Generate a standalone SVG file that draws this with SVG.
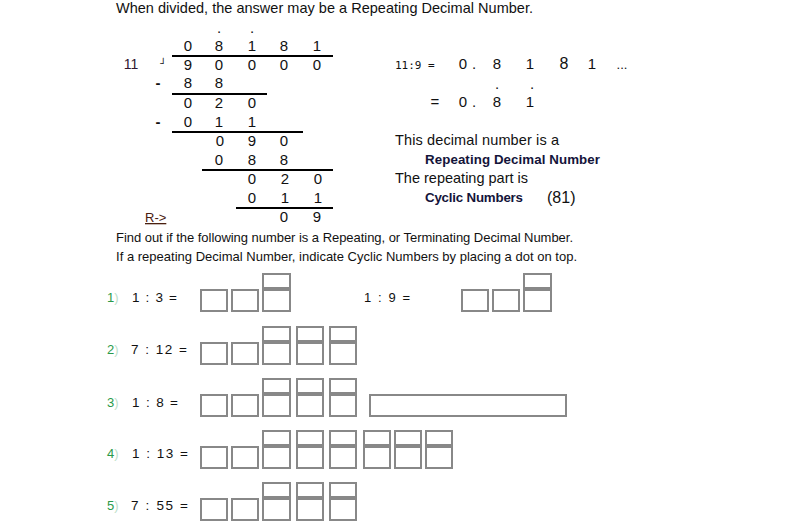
<svg xmlns="http://www.w3.org/2000/svg" width="799" height="525" viewBox="0 0 799 525">
<style>
text{font-family:"Liberation Sans",Arial,sans-serif;fill:#111}
.d{font-size:15px;text-anchor:middle}
.t{font-size:14.5px}
.s{font-size:13px}
.e{font-size:13.5px}
.b{font-size:13.3px;font-weight:bold;fill:#14143a}
.m{font-family:"DejaVu Sans Mono","Liberation Mono",monospace;font-size:11px}
.n{font-size:13px;fill:#2a9a4a}
.bx{fill:#fff;stroke:#888;stroke-width:2}
.ln{stroke:#000;stroke-width:2}
</style>
<rect width="799" height="525" fill="#fff"/>
<text class="t" x="116" y="13" textLength="417">When divided, the answer may be a Repeating Decimal Number.</text>

<g id="division">
<text class="d" x="219" y="33">.</text><text class="d" x="252" y="33">.</text>
<text class="d" x="188" y="51">0</text><text class="d" x="219" y="51">8</text><text class="d" x="252" y="51">1</text><text class="d" x="284" y="51">8</text><text class="d" x="317" y="51">1</text>
<line class="ln" x1="172" y1="56" x2="333" y2="56"/>
<text class="d" x="131" y="69" style="fill:#301830;font-size:14px">11</text>
<text class="d" x="163" y="67" style="font-size:10px;font-family:'DejaVu Sans',sans-serif">┘</text>
<text class="d" x="188" y="70">9</text><text class="d" x="219" y="70">0</text><text class="d" x="252" y="70">0</text><text class="d" x="284" y="70">0</text><text class="d" x="317" y="70">0</text>
<text class="d" x="158" y="88" style="font-weight:bold">-</text>
<text class="d" x="188" y="88">8</text><text class="d" x="219" y="88">8</text>
<line class="ln" x1="172" y1="94" x2="267" y2="94"/>
<text class="d" x="188" y="108">0</text><text class="d" x="219" y="108">2</text><text class="d" x="252" y="108">0</text>
<text class="d" x="158" y="127" style="font-weight:bold">-</text>
<text class="d" x="188" y="127">0</text><text class="d" x="219" y="127">1</text><text class="d" x="252" y="127">1</text>
<line class="ln" x1="172" y1="132" x2="303" y2="132"/>
<text class="d" x="220" y="146">0</text><text class="d" x="252" y="146">9</text><text class="d" x="284" y="146">0</text>
<text class="d" x="219" y="165">0</text><text class="d" x="252" y="165">8</text><text class="d" x="284" y="165">8</text>
<line class="ln" x1="202" y1="170" x2="333" y2="170"/>
<text class="d" x="252" y="184">0</text><text class="d" x="285" y="184">2</text><text class="d" x="318" y="184">0</text>
<text class="d" x="252" y="203">0</text><text class="d" x="285" y="203">1</text><text class="d" x="318" y="203">1</text>
<line class="ln" x1="236" y1="208" x2="333" y2="208"/>
<text class="s" x="145" y="222" style="fill:#4a2010;text-decoration:underline">R-&gt;</text>
<text class="d" x="284" y="222">0</text><text class="d" x="317" y="222">9</text>
</g>

<g id="result">
<text class="m" x="395" y="69">11:9 =</text>
<text class="d" x="463" y="69">0</text><text class="d" x="474" y="69">.</text><text class="d" x="497" y="69">8</text><text class="d" x="530" y="69">1</text><text class="d" x="564" y="69" style="font-size:16px">8</text><text class="d" x="592" y="69">1</text><text class="d" x="622" y="69" style="font-size:13px">...</text>
<text class="d" x="497" y="89">.</text><text class="d" x="532" y="89">.</text>
<text class="d" x="435" y="107">=</text>
<text class="d" x="463" y="107">0</text><text class="d" x="474" y="107">.</text><text class="d" x="497" y="107">8</text><text class="d" x="530" y="107">1</text>
<text class="t" x="395" y="145" textLength="164">This decimal number is a</text>
<text class="b" x="425" y="164" textLength="175">Repeating Decimal Number</text>
<text class="t" x="395" y="183" textLength="133">The repeating part is</text>
<text class="b" x="425" y="202" textLength="98">Cyclic Numbers</text>
<text x="547" y="203" style="font-size:16px">(81)</text>
</g>

<text class="s" x="116" y="242" textLength="457">Find out if the following number is a Repeating, or Terminating Decimal Number.</text>
<text class="s" x="116" y="261" textLength="461">If a repeating Decimal Number, indicate Cyclic Numbers by placing a dot on top.</text>

<g id="q1">
<text class="n" x="107" y="302">1<tspan style="fill:#bde0c8">)</tspan></text>
<text class="e" x="132" y="302" textLength="45">1 : 3 =</text>
<rect class="bx" x="201" y="290" width="26" height="21"/><rect class="bx" x="232" y="290" width="26" height="21"/>
<rect class="bx" x="263" y="274" width="27" height="14"/><rect class="bx" x="263" y="290" width="27" height="21"/>
</g>
<g id="q1b">
<text class="s" x="364" y="302" textLength="46">1 : 9 =</text>
<rect class="bx" x="462" y="290" width="26" height="21"/><rect class="bx" x="493" y="290" width="26" height="21"/>
<rect class="bx" x="524" y="274" width="27" height="14"/><rect class="bx" x="524" y="290" width="27" height="21"/>
</g>
<g id="q2">
<text class="n" x="107" y="354">2<tspan style="fill:#bde0c8">)</tspan></text>
<text class="e" x="131" y="354" textLength="56">7 : 12 =</text>
<rect class="bx" x="201" y="343" width="26" height="21"/><rect class="bx" x="232" y="343" width="26" height="21"/>
<rect class="bx" x="263" y="327" width="27" height="14"/><rect class="bx" x="263" y="343" width="27" height="21"/>
<rect class="bx" x="297" y="327" width="26" height="14"/><rect class="bx" x="297" y="343" width="26" height="21"/>
<rect class="bx" x="330" y="327" width="26" height="14"/><rect class="bx" x="330" y="343" width="26" height="21"/>
</g>
<g id="q3">
<text class="n" x="107" y="407">3<tspan style="fill:#bde0c8">)</tspan></text>
<text class="e" x="132" y="407" textLength="46">1 : 8 =</text>
<rect class="bx" x="201" y="395" width="26" height="21"/><rect class="bx" x="232" y="395" width="26" height="21"/>
<rect class="bx" x="263" y="379" width="27" height="14"/><rect class="bx" x="263" y="395" width="27" height="21"/>
<rect class="bx" x="297" y="379" width="26" height="14"/><rect class="bx" x="297" y="395" width="26" height="21"/>
<rect class="bx" x="330" y="379" width="26" height="14"/><rect class="bx" x="330" y="395" width="26" height="21"/>
<rect class="bx" x="370" y="395" width="196" height="21"/>
</g>
<g id="q4">
<text class="n" x="107" y="458">4<tspan style="fill:#bde0c8">)</tspan></text>
<text class="e" x="132" y="458" textLength="56">1 : 13 =</text>
<rect class="bx" x="201" y="447" width="26" height="21"/><rect class="bx" x="232" y="447" width="26" height="21"/>
<rect class="bx" x="263" y="431" width="27" height="14"/><rect class="bx" x="263" y="447" width="27" height="21"/>
<rect class="bx" x="297" y="431" width="26" height="14"/><rect class="bx" x="297" y="447" width="26" height="21"/>
<rect class="bx" x="330" y="431" width="26" height="14"/><rect class="bx" x="330" y="447" width="26" height="21"/>
<rect class="bx" x="364" y="431" width="26" height="14"/><rect class="bx" x="364" y="447" width="26" height="21"/>
<rect class="bx" x="395" y="431" width="26" height="14"/><rect class="bx" x="395" y="447" width="26" height="21"/>
<rect class="bx" x="426" y="431" width="26" height="14"/><rect class="bx" x="426" y="447" width="26" height="21"/>
</g>
<g id="q5">
<text class="n" x="107" y="510">5<tspan style="fill:#bde0c8">)</tspan></text>
<text class="e" x="131" y="510" textLength="57">7 : 55 =</text>
<rect class="bx" x="201" y="499" width="26" height="21"/><rect class="bx" x="232" y="499" width="26" height="21"/>
<rect class="bx" x="263" y="483" width="27" height="14"/><rect class="bx" x="263" y="499" width="27" height="21"/>
<rect class="bx" x="297" y="483" width="26" height="14"/><rect class="bx" x="297" y="499" width="26" height="21"/>
<rect class="bx" x="330" y="483" width="26" height="14"/><rect class="bx" x="330" y="499" width="26" height="21"/>
</g>
</svg>
